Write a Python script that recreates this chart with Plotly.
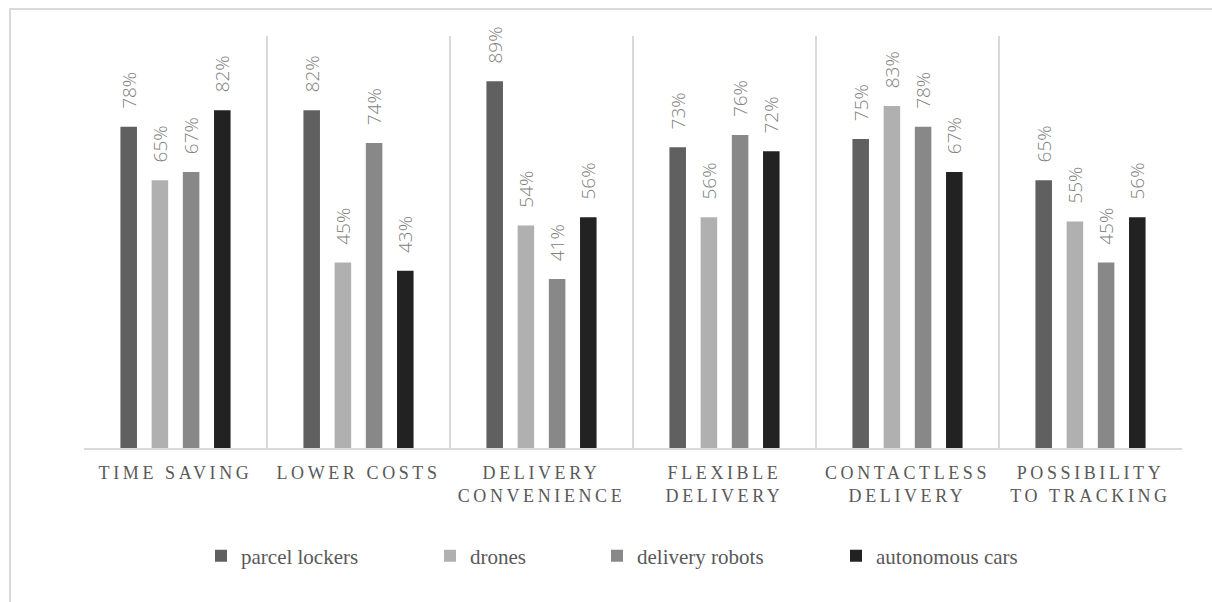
import plotly.graph_objects as go

# Survey results: share of respondents naming each advantage
categories = [
    "TIME SAVING",
    "LOWER COSTS",
    "DELIVERY<br>CONVENIENCE",
    "FLEXIBLE<br>DELIVERY",
    "CONTACTLESS<br>DELIVERY",
    "POSSIBILITY<br>TO TRACKING",
]
series_names = ["parcel lockers", "drones", "delivery robots", "autonomous cars"]
parcel_lockers = [0.78, 0.82, 0.89, 0.73, 0.75, 0.65]
drones = [0.65, 0.45, 0.54, 0.56, 0.83, 0.55]
delivery_robots = [0.67, 0.74, 0.41, 0.76, 0.78, 0.45]
autonomous_cars = [0.82, 0.43, 0.56, 0.72, 0.67, 0.56]

series_values = [parcel_lockers, drones, delivery_robots, autonomous_cars]
colors = ["#606060", "#b0b0b0", "#888888", "#222222"]

W, H = 1212, 602
M_L, M_R, M_T, M_B = 84, 30, 36, 154
plot_w = W - M_L - M_R
plot_h = H - M_T - M_B


def px_to_paper_x(px):
    return (px - M_L) / plot_w


def py_to_paper_y(py):
    return (H - M_B - py) / plot_h


# left edge (px) of each legend box, one legend per series
legend_left_px = [201, 430, 597, 836]
legend_ids = ["legend", "legend2", "legend3", "legend4"]

fig = go.Figure()
PAD = "\u00a0\u00a0\u00a0"
for name, vals, col, lid in zip(series_names, series_values, colors, legend_ids):
    fig.add_trace(go.Bar(
        name=name,
        x=categories,
        y=vals,
        marker=dict(color=col, line=dict(width=0)),
        text=[PAD + f"{round(v * 100)}%" for v in vals],
        textposition="outside",
        textangle=-90,
        constraintext="none",
        cliponaxis=False,
        textfont=dict(family="Open Sans", size=19, color="#808080", weight=300),
        legend=lid,
        hoverinfo="skip",
    ))

legend_font = dict(family="Liberation Serif", size=21, color="#595959")
legends = {}
for lid, lx in zip(legend_ids, legend_left_px):
    legends[lid] = dict(
        x=px_to_paper_x(lx), y=py_to_paper_y(556),
        xanchor="left", yanchor="middle",
        orientation="h", font=legend_font,
        bgcolor="rgba(0,0,0,0)", borderwidth=0,
    )

fig.update_layout(
    width=W, height=H,
    margin=dict(l=M_L, r=M_R, t=M_T, b=M_B),
    paper_bgcolor="white", plot_bgcolor="white",
    barmode="group", bargap=0.318, bargroupgap=0.47,
    showlegend=True,
    xaxis=dict(
        type="category",
        tickson="boundaries",
        showgrid=True, gridcolor="#d9d9d9", gridwidth=2,
        showline=True, linecolor="#d9d9d9", linewidth=2,
        ticks="", ticklabelstandoff=7,
        tickfont=dict(family="Liberation Serif", size=18, color="#595959"),
        fixedrange=True,
    ),
    yaxis=dict(range=[0, 1], visible=False, fixedrange=True),
    shapes=[dict(
        type="rect", xref="paper", yref="paper", layer="below",
        x0=px_to_paper_x(10), x1=px_to_paper_x(W + 20),
        y0=py_to_paper_y(H + 20), y1=py_to_paper_y(9),
        line=dict(color="#d9d9d9", width=2), fillcolor="rgba(0,0,0,0)",
    )],
    **legends,
)

# spaced capitals on the category axis
letter_spacing_js = (
    "var s=document.createElement('style');"
    "s.textContent='.xtick text{letter-spacing:3.6px;}';"
    "document.head.appendChild(s);"
)

fig.write_html("out.html", post_script=letter_spacing_js)
